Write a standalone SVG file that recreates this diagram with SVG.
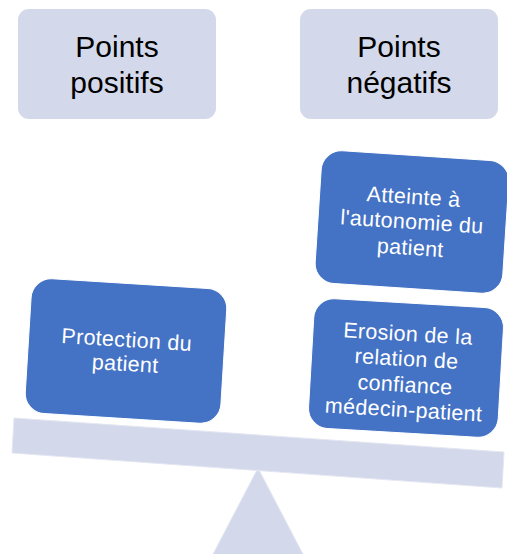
<svg xmlns="http://www.w3.org/2000/svg" width="507" height="554" viewBox="0 0 507 554">
<style>
.hdr{fill:#D3D8EA}
.hdrt{font-family:"Liberation Sans",Arial,sans-serif;font-size:30px;fill:#000;text-anchor:middle}
.blue{fill:#4472C4;stroke:#ffffff;stroke-width:1}
.bt{font-family:"Liberation Sans",Arial,sans-serif;font-size:21.5px;fill:#fff;text-anchor:middle;letter-spacing:0.3px}
.scale{fill:#D3D8EA;stroke:#E4E7F2;stroke-width:1}
</style>
<rect width="507" height="554" fill="#fff"/>
<g id="header-pos">
<rect class="hdr" x="18" y="9" width="198" height="110" rx="11"/>
<text class="hdrt" x="117" y="57">Points</text>
<text class="hdrt" x="117" y="93">positifs</text>
</g>
<g id="header-neg">
<rect class="hdr" x="300" y="9" width="198" height="110" rx="11"/>
<text class="hdrt" x="399" y="57">Points</text>
<text class="hdrt" x="399" y="93">négatifs</text>
</g>
<g id="fulcrum">
<polygon class="scale" points="258,468 306,560 210,560"/>
</g>
<g id="beam">
<polygon class="scale" points="14,418 504,452 502,488 12,453"/>
</g>
<g id="protection" transform="translate(126,351) rotate(3.5)">
<rect class="blue" x="-98" y="-67.5" width="196" height="135" rx="20"/>
<text class="bt" x="0" y="-4">Protection du</text>
<text class="bt" x="0" y="20">patient</text>
</g>
<g id="autonomie" transform="translate(412,222) rotate(3.7)">
<rect class="blue" x="-94" y="-66.5" width="188" height="133" rx="20"/>
<text class="bt" x="0" y="-18">Atteinte à</text>
<text class="bt" x="0" y="7">l'autonomie du</text>
<text class="bt" x="0" y="33">patient</text>
</g>
<g id="erosion" transform="translate(406,368) rotate(3.3)">
<rect class="blue" x="-95" y="-65" width="190" height="130" rx="20"/>
<text class="bt" x="0" y="-27">Erosion de la</text>
<text class="bt" x="0" y="-2">relation de</text>
<text class="bt" x="0" y="24">confiance</text>
<text class="bt" x="0" y="49">médecin-patient</text>
</g>
<g id="connectors"></g>
</svg>
